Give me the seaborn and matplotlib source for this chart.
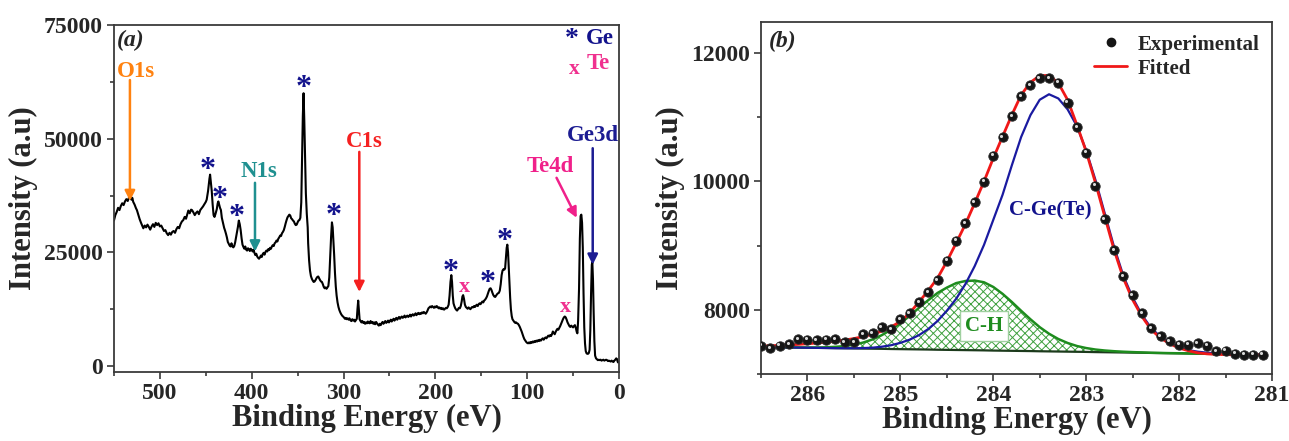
import matplotlib
matplotlib.use("Agg")
import numpy as np
import pandas as pd
import seaborn as sns
import matplotlib.pyplot as plt
from matplotlib.ticker import MultipleLocator
from matplotlib.lines import Line2D
from matplotlib.transforms import offset_copy

# ---------------------------------------------------------------- survey scan (a)
survey_energy = [
    550, 548.5, 547, 545.5, 544, 542.5, 541, 539.5, 538, 536.5, 535, 533.5, 532.5, 531, 530, 529,
    527.5, 526, 525, 523.5, 522, 520.5, 519, 518, 516.5, 515, 513.5, 512, 510.5, 509, 507.5, 506,
    504.5, 503, 501.5, 500, 498.5, 497, 495.5, 494, 492.5, 491, 489.5, 488, 486.5, 485, 483.5, 482,
    480.5, 479, 477.5, 476, 474.5, 473, 471.5, 470, 469, 467.5, 466, 465, 463.5, 462, 460.5, 459,
    457.5, 456, 454.5, 453, 451.5, 450, 449, 447.5, 446, 445.3, 444.5, 443.5, 442.5, 441.5, 440.5,
    439.5, 438, 437, 436.3, 435.5, 434.5, 433.5, 432.5, 431, 430, 429, 428, 427, 426, 425, 424, 423,
    422, 421, 420, 419, 418, 417, 416, 415, 414, 413, 412, 411, 410, 409, 408, 407, 406, 405, 404,
    403, 402, 401, 400, 399, 398, 397, 396, 395, 394, 393, 392, 391, 390, 389, 388, 387, 386, 385,
    384, 383, 382, 381, 380, 379, 378, 377, 376, 375, 374, 373, 372, 371, 370, 369, 368, 367, 366,
    365, 364, 363, 362, 361, 360, 359, 358, 357, 356, 355, 354, 353, 352, 351, 350, 349, 348, 347,
    346, 345.2, 344.3, 343.5, 342.7, 341.8, 341, 340, 339, 338.5, 337.5, 336.5, 335.5, 334.5, 333.5,
    332.5, 331.5, 330.5, 329.5, 328.5, 327.5, 326.5, 325.5, 324.5, 323.5, 322.5, 321.5, 320.5, 319.5,
    318.5, 317.5, 316.5, 315.5, 314.5, 313.5, 312.6, 311.8, 311, 310.2, 309.3, 308.4, 307.5, 306.5,
    305.5, 304.5, 303.5, 302.5, 301.5, 300.5, 299.5, 298.5, 297.5, 296.5, 295.5, 294.5, 293.5, 292.5,
    291.5, 290.5, 289.5, 288.5, 287.5, 286.5, 285.5, 284.8, 284, 283.2, 282.5, 281.5, 280.5, 279.5,
    278.5, 277.5, 276.5, 275.5, 274.5, 273.5, 272.5, 271.5, 270.5, 269.5, 268.5, 267.5, 266.5, 265.5,
    264.5, 263.5, 262.5, 261.5, 260.5, 259.5, 258.5, 257.5, 256.5, 255.5, 254.5, 253.5, 252.5, 251.5,
    250.5, 249.5, 248.5, 247.5, 246.5, 245.5, 244.5, 243.5, 242.5, 241.5, 240.5, 239.5, 238.5, 237.5,
    236.5, 235.5, 234.5, 233.5, 232.5, 231.5, 230.5, 229.5, 228.5, 227.5, 226.5, 225.5, 224.5, 223.5,
    222.5, 221.5, 220.5, 219.5, 218.5, 217.5, 216.5, 215.5, 214.5, 213.5, 212.5, 211.5, 210.5, 209.5,
    208.5, 207.5, 206.5, 205.5, 204.5, 203.5, 202.5, 201.5, 200.5, 199.5, 198.5, 197.5, 196.5, 195.5,
    194.5, 193.5, 192.5, 191.5, 190.5, 189.5, 188.5, 187.5, 186.5, 185.5, 184.5, 183.5, 182.6, 181.8,
    181, 180.2, 179.3, 178.3, 177.3, 176.3, 175.3, 174.3, 173.3, 172.3, 171.3, 170.5, 169.7, 168.8,
    167.8, 166.8, 165.8, 164.8, 163.8, 162.8, 161.8, 160.8, 159.8, 158.8, 157.8, 156.8, 155.8, 154.8,
    153.8, 152.8, 151.8, 150.8, 149.8, 148.8, 147.8, 146.8, 145.8, 144.8, 143.8, 142.8, 141.8, 140.8,
    139.8, 138.8, 137.8, 136.8, 135.8, 134.8, 133.8, 132.8, 131.8, 130.8, 129.8, 128.8, 127.8, 126.8,
    125.8, 124.8, 124, 123.2, 122.3, 121.6, 120.8, 120, 119.3, 118.5, 117.7, 116.8, 116, 115, 114,
    113, 112, 111, 110, 109, 108, 107, 106, 105, 104, 103, 102, 101, 100, 99, 98, 97, 96, 95, 94, 93,
    92, 91, 90, 89, 88, 87, 86, 85, 84, 83, 82, 81, 80, 79, 78, 77, 76, 75, 74, 73, 72, 71, 70, 69,
    68, 67, 66, 65, 64, 63, 62, 61, 60, 59, 58, 57, 56, 55, 54, 53, 52, 51, 50, 49, 48, 47, 46, 45.3,
    44.5, 43.5, 42.6, 41.8, 41, 40.2, 39.4, 38.6, 37.8, 37, 36.2, 35.3, 34.5, 33.6, 32.8, 32, 31.2,
    30.4, 29.6, 29, 28.3, 27.6, 26.8, 26, 25, 24, 23, 22, 21, 20, 19, 18, 17, 16, 15, 14, 13, 12, 11,
    10, 9, 8, 7, 6, 5, 4, 3, 2, 1.5, 1, 0.5, 0,
]
survey_counts = [
    32000, 33200, 33900, 34800, 34300, 35200, 35800, 35400, 36200, 36700, 36300, 37100, 37300, 36600,
    37000, 36100, 35500, 34700, 34300, 33300, 32300, 31500, 30800, 30300, 30900, 30500, 31100, 30600,
    30000, 30700, 31200, 30600, 31500, 31000, 31400, 30700, 30900, 30300, 29700, 29900, 29200, 28800,
    29300, 28900, 29500, 29700, 29300, 30100, 30600, 30300, 31200, 31800, 32100, 32800, 32400, 33500,
    34200, 33600, 34400, 34300, 33800, 33200, 33700, 34000, 33400, 34300, 34700, 35100, 35600, 36100,
    36600, 38500, 41200, 42100, 40500, 38500, 35500, 33200, 32800, 33400, 34500, 35800, 36200, 35600,
    34800, 34300, 32600, 31300, 30400, 29800, 29100, 28300, 27300, 26900, 26500, 26300, 27000, 26300,
    26100, 26400, 27200, 28300, 29300, 30600, 32000, 31200, 29900, 28100, 26700, 26200, 25800, 26300,
    25600, 25400, 25900, 25700, 25300, 25800, 25500, 25200, 25600, 24900, 24400, 24700, 24100, 23800,
    23600, 23900, 24300, 24000, 24600, 24900, 24500, 25100, 25400, 25200, 25700, 25500, 26000, 25800,
    26300, 26600, 26400, 27000, 27200, 27600, 27400, 28000, 28300, 28700, 28600, 29200, 29500, 29900,
    30600, 31400, 32100, 32700, 33000, 33300, 33100, 32500, 32300, 32000, 31800, 31300, 31000, 31100,
    31600, 32000, 32100, 32600, 36000, 45000, 55000, 60000, 54000, 45000, 38000, 33500, 30500, 27000,
    23300, 21000, 19800, 19200, 18800, 18500, 18600, 18900, 19300, 19600, 19700, 19300, 18900, 18600,
    18500, 18000, 17400, 17100, 17300, 17000, 17300, 17600, 19500, 24000, 28500, 31600, 30500, 27500,
    24500, 20500, 17500, 15500, 14000, 13000, 12300, 11800, 11400, 11100, 10900, 10700, 10400, 10600,
    10300, 10500, 10200, 10500, 10100, 9900, 10300, 10000, 10200, 9800, 10100, 10400, 12500, 14400,
    12300, 10300, 9900, 9600, 9900, 9500, 9700, 9300, 9600, 9400, 9800, 9500, 9400, 9900, 9500, 9700,
    9300, 9600, 9200, 9700, 9400, 9100, 8900, 9300, 9000, 9400, 9700, 9300, 9600, 9900, 9500, 9700,
    10000, 9600, 9900, 10200, 9800, 10100, 10400, 10000, 10300, 10600, 10200, 10500, 10800, 10400,
    10700, 10900, 10600, 10800, 11100, 10700, 10900, 11100, 10800, 11000, 11300, 10900, 11200, 11400,
    11100, 11300, 11600, 11200, 11500, 11700, 11400, 11600, 11500, 11800, 11600, 11900, 11700, 11500,
    11800, 12200, 12700, 12900, 13100, 12900, 13200, 13000, 12800, 13100, 12900, 13200, 13000, 12700,
    12900, 12600, 12800, 12500, 12700, 12400, 12600, 12800, 12700, 13000, 13500, 15500, 18500, 20000,
    18500, 15500, 13800, 13200, 12700, 12400, 12200, 12500, 12800, 12700, 13200, 14200, 15300, 15600,
    14800, 13500, 13000, 12800, 12600, 12900, 12700, 12500, 12800, 13000, 12900, 13200, 13000, 13300,
    13500, 13200, 13600, 13800, 13600, 13900, 14200, 14000, 14400, 14600, 14900, 15300, 15900, 16500,
    17000, 17100, 16700, 16100, 15600, 15300, 15200, 15500, 15800, 16000, 16100, 16600, 18000, 20000,
    21000, 21300, 21200, 21500, 23500, 26000, 26700, 25000, 21500, 18500, 15000, 12500, 11000, 10300,
    10000, 9700, 9500, 9600, 9400, 9300, 9000, 8600, 8100, 7600, 7000, 6400, 5900, 5600, 5300, 5100,
    5000, 5200, 5000, 5300, 5100, 5400, 5200, 5500, 5300, 5600, 5400, 5700, 5500, 5800, 5600, 5900,
    6100, 5800, 6100, 6300, 6100, 6400, 6700, 6500, 6800, 6600, 7000, 7600, 7300, 7000, 7500, 7900,
    8200, 8000, 8400, 8800, 9300, 9800, 10300, 10700, 10900, 10700, 10200, 9600, 9200, 8800, 8600,
    8900, 8700, 8500, 8800, 9000, 8400, 7500, 7200, 10000, 17000, 28000, 33000, 33300, 31500, 26000,
    16000, 8500, 5000, 3300, 2800, 2700, 2700, 2900, 3600, 8000, 16000, 22300, 22800, 19000, 12000,
    5500, 2300, 1700, 1500, 1300, 1400, 1300, 1400, 1200, 1300, 1400, 1200, 1300, 1400, 1300, 1100,
    1200, 1100, 1000, 1200, 1000, 900, 1200, 1400, 1700, 1500, 1000, 800, 900, 900,
]

# core-level labels: text, colour, text centre, arrow tail, arrow tip (eV, counts)
core_labels = ["O1s", "N1s", "C1s", "Te4d", "Ge3d"]
core_colors = ["#ff8210", "#1f9090", "#f52020", "#f0208a", "#1c1c92"]
core_text_pos = [(526, 64700), (392, 42700), (277.7, 49350), (75, 43850), (28.8, 50800)]
core_arrow_tail = [(532.6, 62900), (396.4, 40300), (282.8, 47100), (68, 41400), (28.6, 47900)]
core_arrow_tip = [(532.6, 36300), (396.4, 25200), (282.8, 16300), (46, 32600), (28.6, 22300)]

# element markers above peaks
ge_peak_energy = [447.4, 435.3, 416.4, 343.8, 311.1, 183.3, 143.0, 124.1]
ge_peak_level = [43000, 36700, 32600, 61000, 32900, 20500, 18200, 27500]
te_peak_energy = [168.5, 58.0]
te_peak_level = [17450, 12900]

# ---------------------------------------------------------------- C 1s region (b)
c1s_energy = [
    286.5, 286.4, 286.3, 286.2, 286.1, 286.0, 285.9, 285.8, 285.7, 285.6, 285.5,
    285.4, 285.3, 285.2, 285.1, 285.0, 284.9, 284.8, 284.7, 284.6, 284.5,
    284.4, 284.3, 284.2, 284.1, 284.0, 283.9, 283.8, 283.7, 283.6, 283.5,
    283.4, 283.3, 283.2, 283.1, 283.0, 282.9, 282.8, 282.7, 282.6, 282.5,
    282.4, 282.3, 282.2, 282.1, 282.0, 281.9, 281.8, 281.7, 281.6, 281.5,
    281.4, 281.3, 281.2, 281.1,
]
c1s_experimental = [
    7440, 7404, 7440, 7466, 7544, 7533, 7523, 7533, 7544, 7492, 7492,
    7622, 7637, 7731, 7700, 7855, 7948, 8119, 8275, 8456, 8767,
    9078, 9349, 9676, 9997, 10401, 10687, 11019, 11330, 11501, 11605,
    11605, 11536, 11225, 10842, 10447, 9934, 9416, 8923, 8519, 8223,
    7948, 7715, 7585, 7507, 7455, 7455, 7481, 7440, 7352, 7362,
    7315, 7300, 7300, 7300,
]
c1s_fitted = [
    7435, 7440, 7446, 7453, 7461, 7471, 7482, 7495, 7510, 7528, 7552,
    7582, 7620, 7668, 7733, 7818, 7950, 8120, 8300, 8493, 8752,
    9038, 9333, 9660, 9997, 10360, 10697, 11034, 11345, 11540, 11645,
    11648, 11530, 11268, 10879, 10463, 9976, 9452, 8934, 8493, 8156,
    7896, 7689, 7560, 7471, 7404, 7362, 7330, 7314, 7306, 7302,
    7300, 7298, 7297, 7296,
]
c1s_ge_te = [
    7420, 7418, 7416, 7413, 7411, 7409, 7407, 7405, 7403, 7402, 7402,
    7404, 7410, 7425, 7448, 7485, 7535, 7605, 7700, 7825, 7985,
    8170, 8400, 8680, 9010, 9400, 9790, 10250, 10690, 11030, 11270,
    11355, 11290, 11120, 10860, 10480, 10020, 9500, 8980, 8530, 8190,
    7920, 7715, 7580, 7488, 7415, 7372, 7348, 7332, 7322, 7315,
    7311, 7308, 7305, 7302,
]
c1s_ch = [
    7420, 7418, 7416, 7414, 7413, 7412, 7413, 7416, 7423, 7435, 7456,
    7490, 7538, 7605, 7690, 7790, 7905, 8030, 8150, 8262, 8345,
    8415, 8448, 8455, 8428, 8355, 8248, 8121, 7984, 7852, 7729,
    7627, 7545, 7483, 7436, 7404, 7381, 7366, 7355, 7347, 7341,
    7336, 7331, 7328, 7325, 7323, 7320, 7317, 7315, 7313, 7311,
    7309, 7307, 7305, 7302,
]
c1s_background = [
    7420, 7418, 7416, 7413, 7411, 7409, 7407, 7405, 7402, 7400, 7398,
    7396, 7394, 7392, 7389, 7387, 7385, 7383, 7381, 7378, 7376,
    7374, 7372, 7370, 7368, 7365, 7363, 7361, 7359, 7357, 7354,
    7352, 7350, 7348, 7346, 7344, 7341, 7339, 7337, 7335, 7333,
    7331, 7328, 7326, 7324, 7322, 7320, 7317, 7315, 7313, 7311,
    7309, 7307, 7305, 7302,
]

survey = pd.DataFrame({"energy": survey_energy, "counts": survey_counts})
c1s = pd.DataFrame({
    "energy": c1s_energy, "experimental": c1s_experimental, "fitted": c1s_fitted,
    "ge_te": c1s_ge_te, "ch": c1s_ch, "background": c1s_background,
})

# ---------------------------------------------------------------- style
sns.set_theme(style="ticks")
plt.rcParams["font.family"] = ["Liberation Serif", "DejaVu Serif"]
plt.rcParams["font.weight"] = "bold"
plt.rcParams["axes.labelweight"] = "bold"
plt.rcParams["hatch.linewidth"] = 0.7

SPINE = "#3a3a3a"
NAVY = "#12128c"
PINK = "#f0308f"
GREEN = "#1e8c1e"
TICK_SIZE = 17
LABEL_SIZE = 22

fig = plt.figure(figsize=(12.89, 4.41), dpi=100)
ax1 = fig.add_axes([0.0884, 0.1565, 0.3918, 0.7868])
ax2 = fig.add_axes([0.5904, 0.1519, 0.3964, 0.7982])

# ---------------------------------------------------------------- panel (a)
sns.lineplot(data=survey, x="energy", y="counts", ax=ax1, color="black",
             linewidth=1.5, estimator=None, sort=False)
ax1.set_xlim(550, 0)
ax1.set_ylim(-1300, 75000)
ax1.xaxis.set_major_locator(MultipleLocator(100))
ax1.xaxis.set_minor_locator(MultipleLocator(50))
ax1.yaxis.set_major_locator(MultipleLocator(25000))
ax1.yaxis.set_minor_locator(MultipleLocator(12500))

for name, col, tpos, tail, tip in zip(core_labels, core_colors, core_text_pos,
                                      core_arrow_tail, core_arrow_tip):
    ax1.text(tpos[0], tpos[1], name, color=col, fontsize=16.5, ha="center", va="center")
    ax1.annotate("", xy=tip, xytext=tail,
                 arrowprops=dict(arrowstyle="-|>", color=col, lw=1.8,
                                 mutation_scale=15, shrinkA=0, shrinkB=0))

for e, v in zip(ge_peak_energy, ge_peak_level):
    ax1.text(e, v, "*", color=NAVY, fontsize=23, ha="center", va="center")
for e, v in zip(te_peak_energy, te_peak_level):
    ax1.text(e, v, "x", color=PINK, fontsize=16, ha="center", va="center")

# element key in the upper-right corner
ax1.text(0.907, 0.958, "*", transform=ax1.transAxes, color=NAVY, fontsize=20,
         ha="center", va="center")
ax1.text(0.935, 0.962, "Ge", transform=ax1.transAxes, color=NAVY, fontsize=16.5,
         ha="left", va="center")
ax1.text(0.911, 0.874, "x", transform=ax1.transAxes, color=PINK, fontsize=15.5,
         ha="center", va="center")
ax1.text(0.935, 0.89, "Te", transform=ax1.transAxes, color=PINK, fontsize=16.5,
         ha="left", va="center")
ax1.text(0.006, 0.985, "(a)", transform=ax1.transAxes, fontsize=17, style="italic",
         ha="left", va="top")

# ---------------------------------------------------------------- panel (b)
ax2.fill_between(c1s["energy"], c1s["ch"], c1s["background"], facecolor="none",
                 edgecolor="#3fa03f", hatch="xxxx", linewidth=0, zorder=1)
sns.lineplot(data=c1s, x="energy", y="background", ax=ax2, color="#1c3a1c",
             linewidth=1.6, estimator=None, sort=False, zorder=2)
sns.lineplot(data=c1s, x="energy", y="ch", ax=ax2, color=GREEN,
             linewidth=1.8, estimator=None, sort=False, zorder=2)
sns.lineplot(data=c1s, x="energy", y="ge_te", ax=ax2, color="#1a1aa0",
             linewidth=1.6, estimator=None, sort=False, zorder=2)
sns.lineplot(data=c1s, x="energy", y="fitted", ax=ax2, color="#f01818",
             linewidth=2.0, estimator=None, sort=False, zorder=3)
sns.scatterplot(data=c1s, x="energy", y="experimental", ax=ax2, color="#151515",
                s=46, edgecolor="#2a2a2a", linewidth=0.6, zorder=4)
shine = offset_copy(ax2.transData, fig=fig, x=-1.3, y=1.3, units="dots")
ax2.scatter(c1s["energy"], c1s["experimental"], s=5, color="#d8d8d8",
            transform=shine, zorder=5, linewidths=0)

ax2.set_xlim(286.5, 281)
ax2.set_ylim(7000, 12480)
ax2.xaxis.set_major_locator(MultipleLocator(1))
ax2.xaxis.set_minor_locator(MultipleLocator(0.5))
ax2.yaxis.set_major_locator(MultipleLocator(2000))
ax2.yaxis.set_minor_locator(MultipleLocator(1000))

ax2.text(283.39, 9541, "C-Ge(Te)", color=NAVY, fontsize=15, ha="center", va="center")
ax2.text(284.1, 7751, "C-H", color=GREEN, fontsize=15, ha="center", va="center",
         bbox=dict(boxstyle="square,pad=0.25", facecolor="white", edgecolor="#9fd09f",
                   linewidth=1.0), zorder=6)
ax2.text(0.016, 0.975, "(b)", transform=ax2.transAxes, fontsize=17, style="italic",
         ha="left", va="top")

handles = [
    Line2D([], [], marker="o", linestyle="none", markersize=6, color="#151515"),
    Line2D([], [], color="#f01818", linewidth=2.0),
]
ax2.legend(handles, ["Experimental", "Fitted"], loc="upper right", frameon=False,
           handlelength=1.6, handletextpad=0.5, labelspacing=0.2,
           borderaxespad=0.2, prop={"weight": "bold", "size": 15})

for ax in (ax1, ax2):
    for sp in ax.spines.values():
        sp.set_color(SPINE)
        sp.set_linewidth(1.3)
    ax.tick_params(which="both", direction="out", top=False, right=False,
                   color=SPINE, width=1.2, labelsize=TICK_SIZE, pad=3)
    ax.tick_params(which="major", length=5)
    ax.tick_params(which="minor", length=3)
    ax.set_xlabel("Binding Energy (eV)", fontsize=LABEL_SIZE, labelpad=0)
    ax.set_ylabel("Intensity (a.u)", fontsize=LABEL_SIZE, labelpad=4)

fig.savefig("out.png", dpi=100)
